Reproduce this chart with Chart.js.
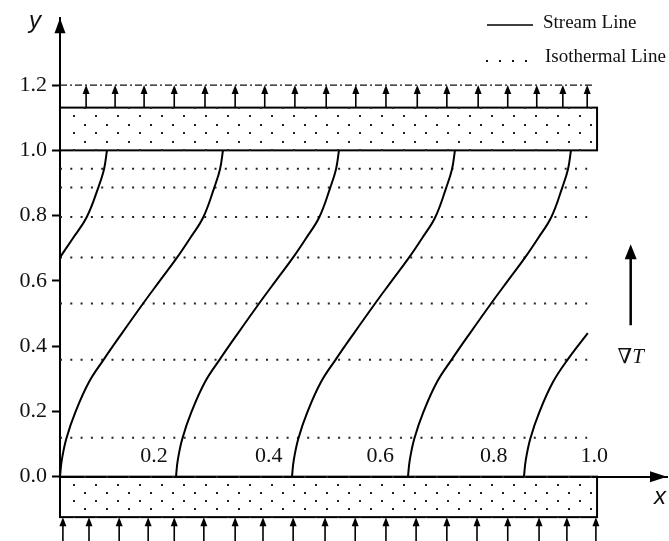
<!DOCTYPE html>
<html>
<head>
<meta charset="utf-8">
<script src="https://cdn.jsdelivr.net/npm/chart.js@4.4.1/dist/chart.umd.min.js"></script>
<style>
  html, body { margin: 0; padding: 0; background: #fff; }
  #wrap { width: 669px; height: 541px; }
</style>
</head>
<body>
<div id="wrap"><canvas id="chart"></canvas></div>
<script>
const streamY = [0, 0.05, 0.117, 0.2, 0.29, 0.358, 0.44, 0.53, 0.6, 0.672, 0.73, 0.795, 0.886, 0.943, 1.0];
// x of every stream line at those heights (null = outside the layer)
const streamA = [null, null, null, null, null, null, null, null, null, 0, 0.022, 0.046, 0.066, 0.076, 0.081];
const streamB = [0, 0.003, 0.011, 0.027, 0.050, 0.075, 0.107, 0.143, 0.172, 0.202, 0.224, 0.247, 0.266, 0.276, 0.281];
const streamC = [0.2, 0.203, 0.211, 0.227, 0.250, 0.275, 0.307, 0.343, 0.372, 0.402, 0.424, 0.447, 0.466, 0.476, 0.481];
const streamD = [0.4, 0.403, 0.411, 0.427, 0.450, 0.475, 0.507, 0.543, 0.572, 0.602, 0.624, 0.647, 0.666, 0.676, 0.681];
const streamE = [0.6, 0.603, 0.611, 0.627, 0.650, 0.675, 0.707, 0.743, 0.772, 0.802, 0.824, 0.847, 0.866, 0.876, 0.881];
const streamF = [0.8, 0.803, 0.811, 0.827, 0.850, 0.875, 0.910, null, null, null, null, null, null, null, null];

const streamLabels = ['0.2', '0.4', '0.6', '0.8', '1.0'];
const streamLabelX = [0.162, 0.360, 0.552, 0.748, 0.921];
const streamLabelY = 0.063;

const isothermY = [0.944, 0.886, 0.796, 0.672, 0.531, 0.358, 0.119];
const isothermX = [0, 0.909];

const yTicks = [0, 0.2, 0.4, 0.6, 0.8, 1.0, 1.2];

const wallTop = [1.0, 1.131];
const wallBottom = [-0.124, 0];
const wallRight = 0.926;
const boundaryY = 1.2;
const boundaryX = [0, 0.922];

const topArrowX = [0.045, 0.095, 0.145, 0.197, 0.250, 0.302, 0.353, 0.405, 0.459, 0.510,
  0.562, 0.616, 0.667, 0.721, 0.772, 0.822, 0.867, 0.909];
const bottomArrowX = [0.005, 0.050, 0.102, 0.152, 0.197, 0.248, 0.302, 0.350, 0.402, 0.457,
  0.509, 0.562, 0.614, 0.667, 0.719, 0.772, 0.826, 0.874, 0.924];

const serif = '"Liberation Serif", "DejaVu Serif", serif';

function upArrow(ctx, x, base, tip, head, halfW) {
  ctx.beginPath();
  ctx.moveTo(x, base);
  ctx.lineTo(x, tip + head - 1);
  ctx.stroke();
  ctx.beginPath();
  ctx.moveTo(x, tip);
  ctx.lineTo(x - halfW, tip + head);
  ctx.lineTo(x + halfW, tip + head);
  ctx.closePath();
  ctx.fill();
}

const decor = {
  id: 'decor',
  afterDatasetsDraw(chart) {
    const { ctx, chartArea } = chart;
    const xs = chart.scales.x, ys = chart.scales.y;
    const px = (v) => xs.getPixelForValue(v);
    const py = (v) => ys.getPixelForValue(v);
    ctx.save();
    ctx.strokeStyle = '#000';
    ctx.fillStyle = '#000';

    // walls with dotted fill
    [wallTop, wallBottom].forEach(([lo, hi]) => {
      const top = py(hi), bot = py(lo), left = px(0), right = px(wallRight);
      ctx.lineWidth = 2;
      ctx.strokeRect(left, top, right - left, bot - top);
      ctx.fillStyle = '#222';
      for (let r = 0; r <= 5; r++) {
        const yy = top + (bot - top) * r / 5;
        for (let xx = left + (r % 2 ? 14 : 25); xx < right - 3; xx += 22) {
          ctx.fillRect(Math.round(xx) - 1, Math.round(yy) - 1, 2, 2);
        }
      }
      ctx.fillStyle = '#000';
    });

    // flux arrows
    ctx.lineWidth = 1.6;
    topArrowX.forEach((v) => upArrow(ctx, px(v), py(wallTop[1]), py(boundaryY), 9, 3.5));
    bottomArrowX.forEach((v) => upArrow(ctx, px(v), chart.height, py(wallBottom[0]), 9, 3.5));

    // axis arrow heads
    const ax = chartArea.left, ay = py(0);
    ctx.beginPath();
    ctx.moveTo(ax, chartArea.top);
    ctx.lineTo(ax - 5.5, chartArea.top + 15);
    ctx.lineTo(ax + 5.5, chartArea.top + 15);
    ctx.closePath();
    ctx.fill();
    ctx.beginPath();
    ctx.moveTo(chartArea.right, ay);
    ctx.lineTo(chartArea.right - 17, ay - 5.5);
    ctx.lineTo(chartArea.right - 17, ay + 5.5);
    ctx.closePath();
    ctx.fill();

    // axis names
    ctx.fillStyle = '#111';
    ctx.font = 'italic 24px "Liberation Sans", Arial, sans-serif';
    ctx.textAlign = 'center';
    ctx.textBaseline = 'middle';
    ctx.fillText('y', 35, 21);
    ctx.fillText('x', 660, 497);

    // stream line values
    ctx.font = '22px ' + serif;
    streamLabels.forEach((t, i) => ctx.fillText(t, px(streamLabelX[i]), py(streamLabelY)));

    // temperature gradient arrow
    ctx.lineWidth = 2.5;
    ctx.fillStyle = '#000';
    upArrow(ctx, px(0.984), py(0.464), py(0.712), 15, 6);
    ctx.fillStyle = '#111';
    ctx.font = '21px ' + serif;
    const nab = ctx.measureText('\u2207').width;
    ctx.font = 'italic 21px ' + serif;
    const tw = ctx.measureText('T').width;
    const sx = px(0.984) - (nab + tw) / 2;
    ctx.textAlign = 'left';
    ctx.font = '21px ' + serif;
    ctx.fillText('\u2207', sx, py(0.366));
    ctx.font = 'italic 21px ' + serif;
    ctx.fillText('T', sx + nab, py(0.366));

    // legend
    ctx.lineWidth = 1.5;
    ctx.strokeStyle = '#000';
    ctx.beginPath();
    ctx.moveTo(487, 25);
    ctx.lineTo(533, 25);
    ctx.stroke();
    for (let i = 0; i < 4; i++) ctx.fillRect(486 + i * 13, 60, 2, 2);
    ctx.font = '19px ' + serif;
    ctx.fillText('Stream Line', 543, 23);
    ctx.fillText('Isothermal Line', 545, 57);
    ctx.restore();
  }
};

const streamSets = [streamA, streamB, streamC, streamD, streamE, streamF].map((xsArr) => ({
  data: xsArr.map((v, i) => (v === null ? null : { x: v, y: streamY[i] })).filter(Boolean),
  showLine: true,
  borderColor: '#000',
  borderWidth: 2,
  pointRadius: 0,
  tension: 0.4
}));

const isothermSets = isothermY.map((v) => ({
  data: isothermX.map((x) => ({ x, y: v })),
  showLine: true,
  borderColor: '#222',
  borderWidth: 2,
  borderDash: [2, 8.3],
  pointRadius: 0
}));

const boundarySet = {
  data: boundaryX.map((x) => ({ x, y: boundaryY })),
  showLine: true,
  borderColor: '#111',
  borderWidth: 1.3,
  borderDash: [7, 3, 2, 3],
  pointRadius: 0
};

new Chart(document.getElementById('chart'), {
  type: 'scatter',
  data: { datasets: [...streamSets, ...isothermSets, boundarySet] },
  options: {
    responsive: true,
    maintainAspectRatio: false,
    animation: false,
    layout: { padding: { top: 10, bottom: 24, left: 0, right: 2 } },
    plugins: { legend: { display: false }, tooltip: { enabled: false } },
    scales: {
      x: {
        type: 'linear',
        min: 0,
        max: 1.0466,
        position: { y: 0 },
        ticks: { display: false },
        grid: { display: false },
        border: { display: true, color: '#000', width: 2 }
      },
      y: {
        type: 'linear',
        min: -0.1236,
        max: 1.405,
        afterBuildTicks: (s) => { s.ticks = yTicks.map((value) => ({ value })); },
        afterFit: (s) => { s.width = 60; },
        ticks: {
          callback: (v) => Number(v).toFixed(1),
          color: '#111',
          padding: 5,
          font: { family: serif, size: 22 }
        },
        grid: {
          display: true,
          drawOnChartArea: false,
          drawTicks: true,
          tickLength: 8,
          tickWidth: 2,
          tickColor: '#000'
        },
        border: { display: true, color: '#000', width: 2 }
      }
    }
  },
  plugins: [decor]
});
</script>
</body>
</html>
